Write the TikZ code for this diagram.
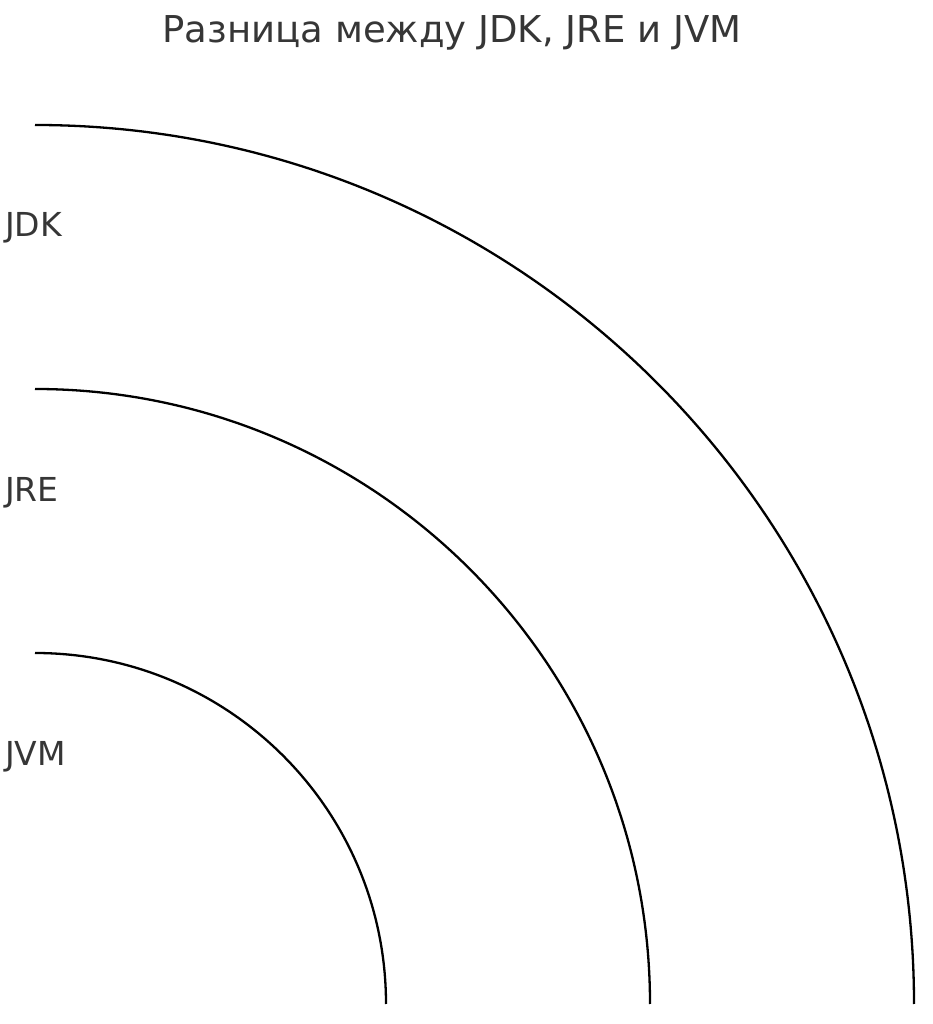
\documentclass[tikz,border=0pt]{standalone}
\usepackage{fontspec}
\setmainfont{DejaVu Sans}
\usepackage{tikz}
\usetikzlibrary{positioning}
\definecolor{labelgray}{HTML}{363636}

\begin{document}
\begin{tikzpicture}[x=1pt, y=1pt,
    layer/.style={line width=2.3pt, black},
    lbl/.style={anchor=base west, inner sep=0pt, text=labelgray, font=\fontsize{33}{40}\selectfont},
    heading/.style={anchor=base, inner sep=0pt, text=labelgray, font=\fontsize{37}{44}\selectfont}]
      \useasboundingbox (0,0) rectangle (933,1024);
      % Place nodes
      \coordinate (origin) at (35,20);
      \node [heading] (title) at (452,981) {Разница между JDK, JRE и JVM};
      \node [lbl] (jdk) at (5,787) {JDK};
      \node [lbl] (jre) at (5,522) {JRE};
      \node [lbl] (jvm) at (5,258) {JVM};
      % Draw arcs
      \draw [layer] ([yshift=879pt]origin) arc [start angle=90, end angle=0, radius=879pt];
      \draw [layer] ([yshift=615pt]origin) arc [start angle=90, end angle=0, radius=615pt];
      \draw [layer] ([yshift=351pt]origin) arc [start angle=90, end angle=0, radius=351pt];
\end{tikzpicture}
\end{document}
